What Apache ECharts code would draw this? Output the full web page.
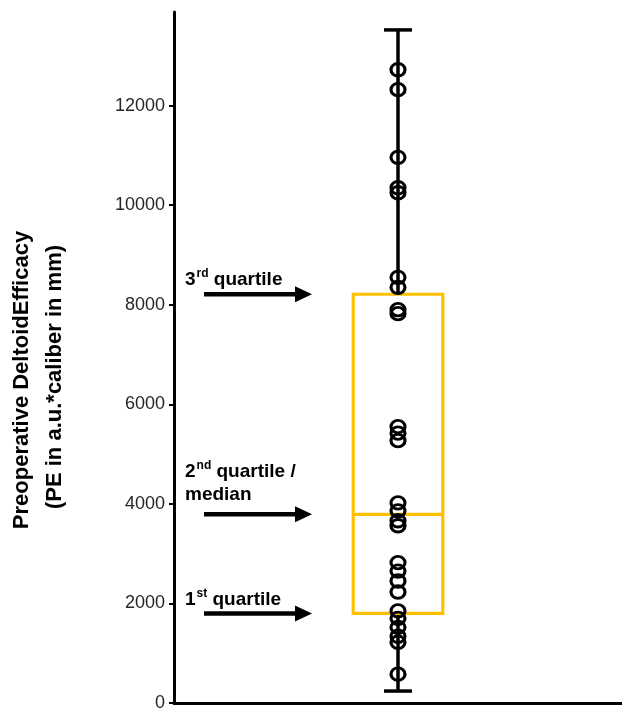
<!DOCTYPE html>
<html>
<head>
<meta charset="utf-8">
<script src="https://cdn.jsdelivr.net/npm/echarts@6/dist/echarts.min.js"></script>
<style>
  html, body { margin: 0; padding: 0; background: #fff; }
  #chart { width: 622px; height: 712px; }
</style>
</head>
<body>
<div id="chart"></div>
<script>
// Single group of patients
const categories = ['PE'];

// Individual preoperative deltoid efficacy values (a.u.*caliber in mm)
const peValues = [
  12720, 12320, 10960, 10350, 10250,
  8550, 8350, 7900, 7820,
  5550, 5420, 5270,
  4020, 3860, 3660, 3560,
  2820, 2650, 2450, 2230,
  1850, 1700, 1520, 1340, 1220,
  580
];

// Box statistics: whisker low, 1st quartile, median, 3rd quartile, whisker high
const boxStats = [240, 1800, 3790, 8210, 13520];

// Y axis ticks and range
const yTicks = [0, 2000, 4000, 6000, 8000, 10000, 12000];
const yMax = 13880;

// Annotation texts pointing at the quartiles
const quartileNotes = [
  { rich: '{n|3}{s|rd}{n| quartile}', value: boxStats[3], lift: 5 },
  { rich: '{n|2}{s|nd}{n| quartile /}\n{n|median}', value: boxStats[2], lift: 10 },
  { rich: '{n|1}{s|st}{n| quartile}', value: boxStats[1], lift: 4 }
];

const FONT = '"Liberation Sans", Arial, sans-serif';
const chart = echarts.init(document.getElementById('chart'), null, { renderer: 'canvas' });

function renderBox(params, api) {
  const x = api.value(0);
  const lo = api.coord([x, api.value(1)]);
  const q1 = api.coord([x, api.value(2)]);
  const md = api.coord([x, api.value(3)]);
  const q3 = api.coord([x, api.value(4)]);
  const hi = api.coord([x, api.value(5)]);
  const band = api.size([1, 0])[0];
  const bw = band * 0.2;
  const cw = band * 0.0625;
  const cx = q1[0];
  const black = { stroke: '#000', lineWidth: 3.5, fill: null };
  const orange = { stroke: '#FFC000', lineWidth: 3.2, fill: null };
  return {
    type: 'group',
    children: [
      { type: 'line', shape: { x1: cx, y1: q3[1], x2: cx, y2: hi[1] }, style: black },
      { type: 'line', shape: { x1: cx, y1: q1[1], x2: cx, y2: lo[1] }, style: black },
      { type: 'line', shape: { x1: cx - cw / 2, y1: hi[1], x2: cx + cw / 2, y2: hi[1] }, style: black },
      { type: 'line', shape: { x1: cx - cw / 2, y1: lo[1], x2: cx + cw / 2, y2: lo[1] }, style: black },
      { type: 'rect', shape: { x: cx - bw / 2, y: q3[1], width: bw, height: q1[1] - q3[1] }, style: orange },
      { type: 'line', shape: { x1: cx - bw / 2, y1: md[1], x2: cx + bw / 2, y2: md[1] }, style: orange }
    ]
  };
}

chart.setOption({
  animation: false,
  backgroundColor: '#fff',
  grid: { left: 174, right: 0, top: 12, bottom: 7, containLabel: false },
  xAxis: {
    type: 'category',
    data: categories,
    boundaryGap: true,
    axisLine: { lineStyle: { color: '#000', width: 3 } },
    axisTick: { show: false },
    axisLabel: { show: false },
    splitLine: { show: false }
  },
  yAxis: {
    type: 'value',
    min: 0,
    max: yMax,
    interval: 2000,
    axisLine: { show: true, lineStyle: { color: '#000', width: 3 } },
    axisTick: { show: true, inside: false, length: 5, customValues: yTicks, lineStyle: { color: '#000', width: 2 } },
    axisLabel: {
      customValues: yTicks,
      formatter: v => String(v),
      margin: 9,
      color: '#262626',
      fontSize: 18,
      fontFamily: FONT
    },
    splitLine: { show: false }
  },
  series: [
    {
      type: 'custom',
      renderItem: renderBox,
      data: [[0].concat(boxStats)],
      encode: { x: 0, y: [1, 2, 3, 4, 5] },
      z: 2,
      silent: true
    },
    {
      type: 'scatter',
      data: peValues.map(v => [0, v]),
      symbol: 'circle',
      symbolSize: [14, 12.5],
      itemStyle: { color: 'rgba(0,0,0,0)', borderColor: '#000', borderWidth: 3, opacity: 1 },
      emphasis: { disabled: true },
      z: 3,
      silent: true
    }
  ]
});

// Y axis title and quartile annotations
const graphics = [
  {
    type: 'text', x: 22, y: 380, rotation: Math.PI / 2,
    style: { text: 'Preoperative DeltoidEfficacy', font: 'bold 22px ' + FONT, fill: '#000', align: 'center', verticalAlign: 'middle' }
  },
  {
    type: 'text', x: 55, y: 377, rotation: Math.PI / 2,
    style: { text: '(PE in a.u.*caliber in mm)', font: 'bold 22px ' + FONT, fill: '#000', align: 'center', verticalAlign: 'middle' }
  }
];

quartileNotes.forEach(note => {
  const y = chart.convertToPixel({ gridIndex: 0 }, [0, note.value])[1];
  graphics.push({
    type: 'line',
    shape: { x1: 204, y1: y, x2: 297, y2: y },
    style: { stroke: '#000', lineWidth: 4.5 }
  });
  graphics.push({
    type: 'polygon',
    shape: { points: [[295, y - 8], [312, y], [295, y + 8]] },
    style: { fill: '#000' }
  });
  graphics.push({
    type: 'text', x: 185, y: y - note.lift,
    style: {
      text: note.rich,
      align: 'left',
      verticalAlign: 'bottom',
      fill: '#000',
      rich: {
        n: { fontSize: 19, fontWeight: 'bold', fontFamily: FONT, lineHeight: 23, verticalAlign: 'bottom' },
        s: { fontSize: 12, fontWeight: 'bold', fontFamily: FONT, lineHeight: 23, verticalAlign: 'top', padding: [1, 0, 0, 1] }
      }
    }
  });
});

chart.setOption({ graphic: graphics });
</script>
</body>
</html>
